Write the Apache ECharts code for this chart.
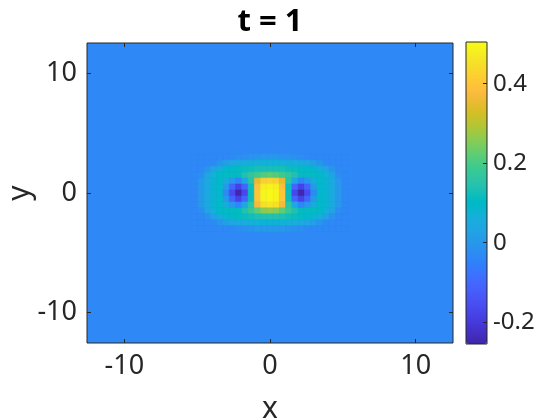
<!DOCTYPE html>
<html>
<head>
<meta charset="utf-8">
<title>t = 1</title>
<script src="https://cdn.jsdelivr.net/npm/echarts@6/dist/echarts.min.js"></script>
<style>
  html, body { margin: 0; padding: 0; background: #fff; }
  #chart { width: 560px; height: 420px; }
</style>
</head>
<body>
<div id="chart"></div>
<script>
// domain is [-4pi, 4pi] on both axes
const L = 4 * Math.PI;
const xTicks = [-10, 0, 10];
const yTicks = [-10, 0, 10];
const cbTicks = [-0.2, 0, 0.2, 0.4];
const cbMin = -0.255;
const cbMax = 0.505;

// value of the flat background (outside the structure)
const bgValue = -0.035;

// cell centres of the sampled region
const xs = [-5.16, -4.73, -4.3, -3.87, -3.44, -3.01, -2.58, -2.15, -1.72, -1.29, -0.86, -0.43, 0,
            0.43, 0.86, 1.29, 1.72, 2.15, 2.58, 3.01, 3.44, 3.87, 4.3, 4.73, 5.16];
const ys = [3, 2.5, 2, 1.5, 1, 0.5, 0, -0.5, -1, -1.5, -2, -2.5, -3];

// field values, one row per ys entry (top to bottom), one column per xs entry
const field = [
  [-0.035,-0.035,-0.035,-0.035,-0.035,-0.035,-0.03,-0.02,-0.015,-0.01,-0.005,0.0,0.0,0.0,-0.005,-0.01,-0.015,-0.02,-0.03,-0.035,-0.035,-0.035,-0.035,-0.035,-0.035],
  [-0.035,-0.035,-0.035,-0.03,-0.005,0.02,0.04,0.05,0.055,0.06,0.065,0.07,0.07,0.07,0.065,0.06,0.055,0.05,0.04,0.02,-0.005,-0.03,-0.035,-0.035,-0.035],
  [-0.035,-0.035,-0.01,0.03,0.06,0.09,0.10,0.11,0.115,0.12,0.13,0.13,0.13,0.13,0.13,0.12,0.115,0.11,0.10,0.09,0.06,0.03,-0.01,-0.035,-0.035],
  [-0.035,-0.02,0.03,0.07,0.10,0.11,0.11,0.11,0.14,0.17,0.19,0.21,0.22,0.21,0.19,0.17,0.14,0.11,0.11,0.11,0.10,0.07,0.03,-0.02,-0.035],
  [-0.035,0.0,0.045,0.08,0.10,0.06,0.0,-0.04,0.04,0.15,0.35,0.42,0.43,0.42,0.35,0.15,0.04,-0.04,0.0,0.06,0.10,0.08,0.045,0.0,-0.035],
  [-0.035,0.005,0.045,0.08,0.09,0.01,-0.11,-0.18,-0.11,0.12,0.39,0.48,0.49,0.48,0.39,0.12,-0.11,-0.18,-0.11,0.01,0.09,0.08,0.045,0.005,-0.035],
  [-0.035,0.005,0.045,0.08,0.09,-0.03,-0.16,-0.25,-0.17,0.12,0.40,0.49,0.50,0.49,0.40,0.12,-0.17,-0.25,-0.16,-0.03,0.09,0.08,0.045,0.005,-0.035],
  [-0.035,0.005,0.045,0.08,0.09,0.01,-0.11,-0.18,-0.11,0.12,0.40,0.49,0.50,0.49,0.40,0.12,-0.11,-0.18,-0.11,0.01,0.09,0.08,0.045,0.005,-0.035],
  [-0.035,0.0,0.045,0.08,0.10,0.06,0.0,-0.04,0.04,0.16,0.37,0.45,0.46,0.45,0.37,0.16,0.04,-0.04,0.0,0.06,0.10,0.08,0.045,0.0,-0.035],
  [-0.035,-0.02,0.03,0.07,0.10,0.11,0.11,0.11,0.14,0.18,0.22,0.26,0.27,0.26,0.22,0.18,0.14,0.11,0.11,0.11,0.10,0.07,0.03,-0.02,-0.035],
  [-0.035,-0.035,-0.015,0.025,0.06,0.085,0.10,0.11,0.115,0.125,0.135,0.14,0.14,0.14,0.135,0.125,0.115,0.11,0.10,0.085,0.06,0.025,-0.015,-0.035,-0.035],
  [-0.035,-0.035,-0.035,-0.03,-0.005,0.02,0.04,0.05,0.055,0.065,0.07,0.075,0.075,0.075,0.07,0.065,0.055,0.05,0.04,0.02,-0.005,-0.03,-0.035,-0.035,-0.035],
  [-0.035,-0.035,-0.035,-0.035,-0.035,-0.035,-0.03,-0.02,-0.015,-0.005,0.0,0.005,0.005,0.005,0.0,-0.005,-0.015,-0.02,-0.03,-0.035,-0.035,-0.035,-0.035,-0.035,-0.035]
];

// parula colormap (64 steps)
const parula = [
  [0.2422,0.1504,0.6603],[0.2504,0.1650,0.7076],[0.2578,0.1818,0.7511],[0.2647,0.1978,0.7952],
  [0.2706,0.2147,0.8364],[0.2751,0.2342,0.8710],[0.2783,0.2559,0.8991],[0.2803,0.2782,0.9221],
  [0.2813,0.3006,0.9414],[0.2810,0.3228,0.9579],[0.2795,0.3447,0.9717],[0.2760,0.3667,0.9829],
  [0.2699,0.3892,0.9906],[0.2602,0.4123,0.9952],[0.2440,0.4358,0.9988],[0.2206,0.4603,0.9973],
  [0.1963,0.4847,0.9892],[0.1834,0.5074,0.9798],[0.1786,0.5289,0.9682],[0.1764,0.5499,0.9520],
  [0.1687,0.5703,0.9359],[0.1540,0.5902,0.9218],[0.1460,0.6091,0.9079],[0.1380,0.6276,0.8973],
  [0.1248,0.6459,0.8883],[0.1113,0.6635,0.8763],[0.0952,0.6798,0.8598],[0.0689,0.6948,0.8394],
  [0.0297,0.7082,0.8163],[0.0036,0.7203,0.7917],[0.0067,0.7312,0.7660],[0.0433,0.7411,0.7394],
  [0.0964,0.7500,0.7120],[0.1408,0.7584,0.6842],[0.1717,0.7670,0.6554],[0.1938,0.7758,0.6251],
  [0.2161,0.7843,0.5923],[0.2470,0.7918,0.5567],[0.2906,0.7973,0.5188],[0.3406,0.8008,0.4789],
  [0.3909,0.8029,0.4354],[0.4456,0.8024,0.3909],[0.5044,0.7993,0.3480],[0.5616,0.7942,0.3045],
  [0.6174,0.7876,0.2612],[0.6720,0.7793,0.2227],[0.7242,0.7698,0.1910],[0.7738,0.7598,0.1646],
  [0.8203,0.7498,0.1535],[0.8634,0.7406,0.1596],[0.9035,0.7330,0.1774],[0.9393,0.7288,0.2100],
  [0.9728,0.7298,0.2394],[0.9956,0.7434,0.2371],[0.9970,0.7659,0.2199],[0.9952,0.7893,0.2028],
  [0.9892,0.8136,0.1885],[0.9786,0.8386,0.1766],[0.9676,0.8639,0.1643],[0.9610,0.8890,0.1537],
  [0.9597,0.9135,0.1423],[0.9628,0.9373,0.1265],[0.9691,0.9606,0.1064],[0.9769,0.9839,0.0805]
].map(c => 'rgb(' + c.map(v => Math.round(v * 255)).join(',') + ')');

const txt = '#262626';
const font = 'Noto Sans';

let cells = [];
ys.forEach((y, j) => {
  xs.forEach((x, i) => {
    cells.push([x, y, field[j][i]]);
  });
});
const dx = xs[1] - xs[0];
const dy = ys[0] - ys[1];

// inward ticks only, the frame comes from the grid border
function tickAxis(extra) {
  return Object.assign({
    type: 'value', z: 10,
    axisLine: {show: false, onZero: false},
    axisTick: {inside: true, length: 4, lineStyle: {color: txt}},
    axisLabel: {show: false},
    splitLine: {show: false}
  }, extra);
}

let chart = echarts.init(document.getElementById('chart'), null, {renderer: 'canvas'});

chart.setOption({
  animation: false,
  graphic: [{
    type: 'text',
    x: 270, y: 22,
    style: {
      text: 't = 1',
      fill: '#000',
      font: 'bold 31px "Noto Sans"',
      textAlign: 'center',
      textVerticalAlign: 'middle'
    }
  }],
  grid: [
    {left: 87, top: 43, width: 366, height: 300, show: true, borderColor: txt, borderWidth: 1,
      backgroundColor: 'transparent', z: 10, containLabel: false, outerBoundsMode: 'none'},
    // colorbar frame
    {left: 466, top: 42, width: 21, height: 302, show: true, borderColor: txt, borderWidth: 1,
      backgroundColor: 'transparent', z: 10, containLabel: false, outerBoundsMode: 'none'}
  ],
  xAxis: [
    tickAxis({
      gridIndex: 0, min: -L, max: L, position: 'bottom',
      axisTick: {inside: true, length: 4, lineStyle: {color: txt}, customValues: xTicks},
      axisLabel: {fontSize: 27, fontFamily: font, color: txt, margin: 10, customValues: xTicks},
      name: 'x', nameLocation: 'middle', nameGap: 51, nameMoveOverlap: false,
      nameTextStyle: {fontSize: 30, fontFamily: font, color: txt}
    }),
    tickAxis({
      gridIndex: 0, min: -L, max: L, position: 'top',
      axisTick: {inside: true, length: 4, lineStyle: {color: txt}, customValues: xTicks}
    }),
    {type: 'value', gridIndex: 1, min: 0, max: 1, show: false}
  ],
  yAxis: [
    tickAxis({
      gridIndex: 0, min: -L, max: L, position: 'left',
      axisTick: {inside: true, length: 4, lineStyle: {color: txt}, customValues: yTicks},
      axisLabel: {fontSize: 27, fontFamily: font, color: txt, margin: 10, customValues: yTicks},
      name: 'y', nameLocation: 'middle', nameGap: 52, nameMoveOverlap: false,
      nameTextStyle: {fontSize: 30, fontFamily: font, color: txt}
    }),
    tickAxis({
      gridIndex: 0, min: -L, max: L, position: 'right',
      axisTick: {inside: true, length: 4, lineStyle: {color: txt}, customValues: yTicks}
    }),
    tickAxis({
      gridIndex: 1, min: cbMin, max: cbMax, position: 'right',
      axisTick: {inside: true, length: 4, lineStyle: {color: txt}, customValues: cbTicks},
      axisLabel: {fontSize: 24, fontFamily: font, color: txt, margin: 6, customValues: cbTicks}
    })
  ],
  visualMap: {
    type: 'continuous',
    min: cbMin, max: cbMax,
    dimension: 2,
    seriesIndex: [0, 1],
    orient: 'vertical',
    left: 466, top: 42,
    itemWidth: 21, itemHeight: 302,
    padding: 0,
    calculable: false,
    hoverLink: false,
    text: null,
    showLabel: false,
    inRange: {color: parula}
  },
  series: [
    {
      // flat background over the whole domain
      type: 'custom',
      xAxisIndex: 0, yAxisIndex: 0,
      encode: {x: 0, y: 1},
      data: [[0, 0, bgValue]],
      renderItem: function (params, api) {
        let p = api.coord([-L, L]);
        let s = api.size([2 * L, 2 * L]);
        let c = api.visual('color');
        return {type: 'rect', shape: {x: p[0], y: p[1], width: s[0], height: s[1]}, style: {fill: c}};
      }
    },
    {
      type: 'custom',
      xAxisIndex: 0, yAxisIndex: 0,
      encode: {x: 0, y: 1},
      data: cells,
      renderItem: function (params, api) {
        let p = api.coord([api.value(0) - dx / 2, api.value(1) + dy / 2]);
        let s = api.size([dx, dy]);
        let c = api.visual('color');
        return {
          type: 'rect',
          shape: {x: p[0], y: p[1], width: s[0], height: s[1]},
          style: {fill: c, stroke: c, lineWidth: 0.6}
        };
      }
    }
  ]
});
</script>
</body>
</html>
